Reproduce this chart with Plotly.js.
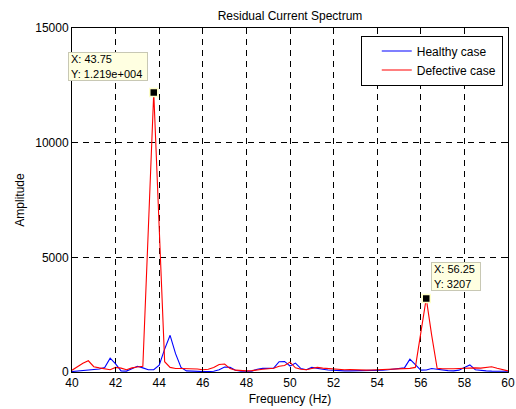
<!DOCTYPE html>
<html>
<head>
<meta charset="utf-8">
<script src="https://cdn.plot.ly/plotly-3.0.1.min.js"></script>
<style>html,body{margin:0;padding:0;background:#fff;}#chart{width:516px;height:409px;}</style>
</head>
<body>
<div id="chart"></div>
<script>
const frequency = [40.00,40.25,40.50,40.75,41.00,41.25,41.50,41.75,42.00,42.25,42.50,42.75,43.00,43.25,43.50,43.75,44.00,44.25,44.50,44.75,45.00,45.25,45.50,45.75,46.00,46.25,46.50,46.75,47.00,47.25,47.50,47.75,48.00,48.25,48.50,48.75,49.00,49.25,49.50,49.75,50.00,50.25,50.50,50.75,51.00,51.25,51.50,51.75,52.00,52.25,52.50,52.75,53.00,53.25,53.50,53.75,54.00,54.25,54.50,54.75,55.00,55.25,55.50,55.75,56.00,56.25,56.50,56.75,57.00,57.25,57.50,57.75,58.00,58.25,58.50,58.75,59.00,59.25,59.50,59.75,60.00];
const healthy = [20,40,60,90,110,130,200,600,350,50,40,150,250,180,100,100,300,1000,1600,800,200,50,30,20,20,20,30,100,220,200,80,30,20,40,120,160,160,170,450,460,260,390,150,100,200,150,120,90,70,60,50,50,50,50,50,55,60,80,100,120,150,180,560,300,80,90,150,120,80,60,50,80,200,310,100,60,50,40,40,30,30];
const defective = [80,250,380,490,230,180,150,100,200,170,100,180,220,250,6200,12190,6300,450,200,150,150,150,140,130,100,120,200,330,350,150,80,60,50,60,100,120,140,160,250,280,430,180,120,100,150,200,170,150,120,100,100,110,90,80,80,90,100,100,120,120,130,140,160,200,1700,3207,1600,160,140,130,140,150,170,190,180,170,190,230,160,90,50];
const seriesNames = ["Healthy case","Defective case"];
const tipX = [43.75, 56.25];
const tipY = [12190, 3207];
const tipText = ["X: 43.75<br>Y: 1.219e+004", "X: 56.25<br>Y: 3207"];
const xTicks = [40,42,44,46,48,50,52,54,56,58,60];
const yTicks = [0,5000,10000,15000];

const font = "Liberation Sans, Arial, Helvetica, sans-serif";

const traces = [
  {x: frequency, y: healthy, type: "scatter", mode: "lines", name: seriesNames[0],
   line: {color: "#0000FF", width: 1.1}},
  {x: frequency, y: defective, type: "scatter", mode: "lines", name: seriesNames[1],
   line: {color: "#FF0000", width: 1.1}},
  {x: tipX, y: tipY, type: "scatter", mode: "markers", showlegend: false, hoverinfo: "skip",
   cliponaxis: false,
   marker: {symbol: "square", size: 8, color: "#000000", line: {color: "#FFFFC8", width: 1.5}}}
];

const axisCommon = {
  showline: true, linecolor: "#000", linewidth: 1, mirror: "ticks",
  ticks: "inside", ticklen: 5, tickcolor: "#000", tickwidth: 1,
  showgrid: true, gridcolor: "#000", gridwidth: 1, griddash: "6px,5px",
  zeroline: false, tickfont: {family: font, size: 12, color: "#000"}
};

const layout = {
  width: 516, height: 409,
  margin: {l: 72, r: 8, t: 28, b: 37},
  paper_bgcolor: "#fff", plot_bgcolor: "#fff",
  font: {family: font, size: 12, color: "#000"},
  title: {text: "Residual Current Spectrum", x: 0.5, xanchor: "center", xref: "paper",
          y: 0.962, yref: "container", yanchor: "middle", font: {family: font, size: 12, color: "#000"}},
  xaxis: Object.assign({}, axisCommon, {range: [40, 60], tickvals: xTicks, ticktext: xTicks.map(String),
    title: {text: "Frequency (Hz)", standoff: 5, font: {family: font, size: 12, color: "#000"}}}),
  yaxis: Object.assign({}, axisCommon, {range: [0, 15000], tickvals: yTicks, ticktext: yTicks.map(String),
    title: {text: "Amplitude", standoff: 8, font: {family: font, size: 12, color: "#000"}}}),
  showlegend: true,
  legend: {x: 0.988, xanchor: "right", y: 0.978, yanchor: "top", bgcolor: "#fff",
           bordercolor: "#000", borderwidth: 1, font: {family: font, size: 12, color: "#000"},
           tracegroupgap: 0, itemwidth: 30, indentation: 15},
  annotations: [
    {x: tipX[0], y: tipY[0], xref: "x", yref: "y", text: tipText[0], showarrow: false,
     xanchor: "right", yanchor: "bottom", xshift: -6, yshift: 11, align: "left",
     width: 74, height: 23, valign: "middle",
     bgcolor: "#FFFFE1", bordercolor: "#C8C8B4", borderwidth: 1, borderpad: 2,
     font: {family: font, size: 11, color: "#000"}},
    {x: tipX[1], y: tipY[1], xref: "x", yref: "y", text: tipText[1], showarrow: false,
     xanchor: "left", yanchor: "bottom", xshift: 5, yshift: 7, align: "left",
     width: 44, height: 23, valign: "middle",
     bgcolor: "#FFFFE1", bordercolor: "#C8C8B4", borderwidth: 1, borderpad: 2,
     font: {family: font, size: 11, color: "#000"}}
  ]
};

Plotly.newPlot("chart", traces, layout, {staticPlot: true, displayModeBar: false});
</script>
</body>
</html>
